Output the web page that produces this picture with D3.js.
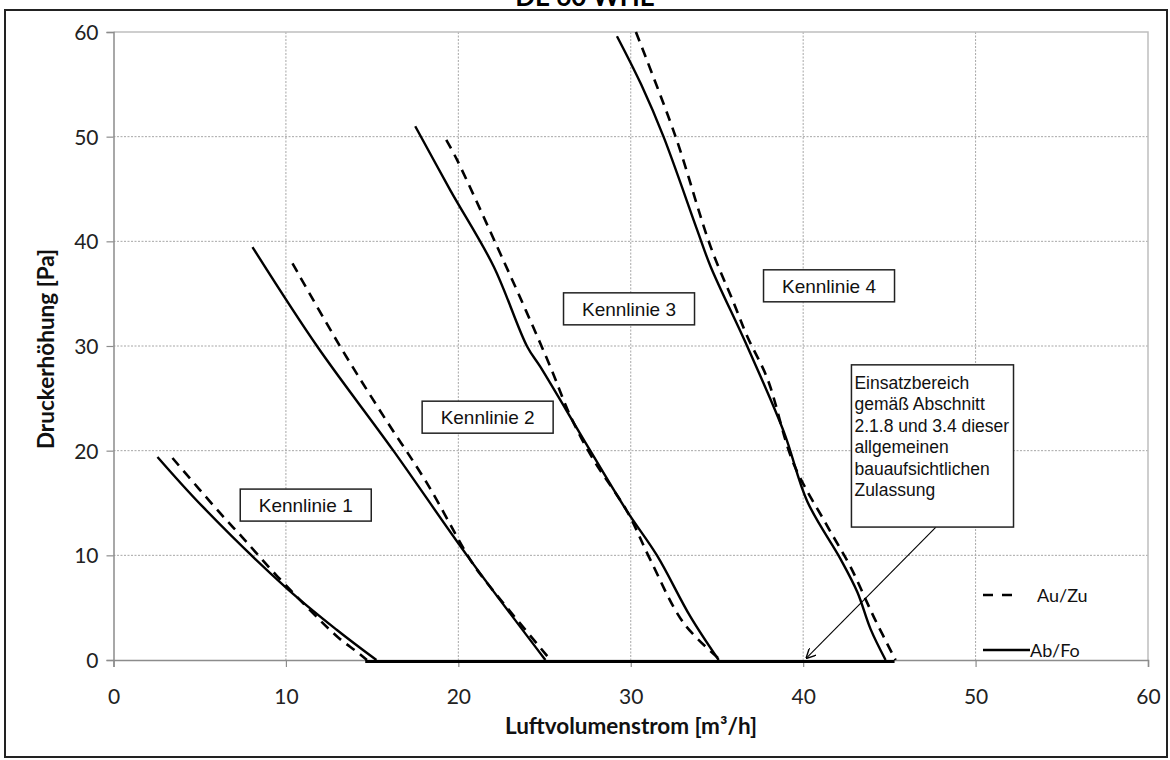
<!DOCTYPE html>
<html>
<head>
<meta charset="utf-8">
<script src="https://cdn.jsdelivr.net/npm/d3@7"></script>
<style>
  html, body { margin: 0; padding: 0; background: #fff; }
  svg { display: block; }
</style>
</head>
<body>
<svg id="chart" width="1170" height="760"></svg>
<script>
// Kennlinien: Druckerhöhung über Luftvolumenstrom, je Kennlinie Zu- und Fortluft

const xTicks = [0, 10, 20, 30, 40, 50, 60];
const yTicks = [0, 10, 20, 30, 40, 50, 60];
const seriesNames = ["Au/Zu", "Ab/Fo"];
const curveLabels = ["Kennlinie 1", "Kennlinie 2", "Kennlinie 3", "Kennlinie 4"];
const noteLines = ["Einsatzbereich", "gemäß Abschnitt", "2.1.8 und 3.4 dieser",
  "allgemeinen", "bauaufsichtlichen", "Zulassung"];

// [m³/h, Pa]
const kl1Zu = [[3.42, 19.3], [6.2, 14.0], [7.54, 11.6], [9.5, 8.0], [13.0, 2.2], [14.1, 0.8], [14.7, 0]];
const kl1Fo = [[2.55, 19.4], [5.2, 14.6], [10.02, 6.9], [12.96, 2.87], [15.25, 0]];
const kl2Zu = [[10.38, 37.9], [13.15, 29.95], [15.66, 23.3], [18.18, 16.9], [20.7, 9.56], [21.6, 7.5], [25.35, 0]];
const kl2Fo = [[8.06, 39.45], [11.8, 30.0], [16.19, 20.1], [20.5, 10], [25.05, 0]];
const kl3Zu = [[19.3, 49.7], [19.92, 47.8], [22.25, 39.5], [23.89, 33.5], [25.34, 28.0], [26.5, 23.3],
  [27.85, 19.1], [29.79, 14.2], [31.14, 9.56], [33.08, 3.5], [35.2, 0]];
const kl3Fo = [[17.5, 51], [19.53, 44.9], [22.05, 37.6], [23.99, 29.95], [24.76, 28.0], [27.66, 19.98],
  [29.79, 14.2], [31.53, 9.97], [33.46, 4.14], [35.1, 0]];
const kl4Zu = [[30.3, 60], [32.6, 50], [34.63, 39.5], [35.98, 34.1], [36.76, 30.9], [37.92, 26.9],
  [39.46, 18.7], [41.4, 12.8], [42.76, 8.85], [44.1, 4.1], [45.36, 0]];
const kl4Fo = [[29.2, 59.6], [30.6, 55], [31.9, 50], [33.85, 41.1], [34.63, 37.6], [36.76, 29.95],
  [38.88, 21.8], [40.24, 15.15], [42.17, 9.64], [43.14, 6.5], [43.91, 2.95], [44.78, 0]];
const einsatz = [[14.6, -0.15], [45.3, -0.15]];

const zuCurves = [kl1Zu, kl2Zu, kl3Zu, kl4Zu];
const foCurves = [kl1Fo, kl2Fo, kl3Fo, kl4Fo];

// layout (data coords for label boxes)
const labelPos = [[11.15, 14.8], [21.7, 23.2], [29.9, 33.55], [41.5, 35.75]];
const notePos = { x0: 42.8, x1: 52.2, y0: 28.2, y1: 12.7, arrowTo: [40.2, 0.2], arrowFrom: [47.7, 12.7] };

const ARIAL = "'Liberation Sans', Arial, sans-serif";
const CALIBRI = "Lato, 'Open Sans', sans-serif";

const svg = d3.select("#chart");
const x = d3.scaleLinear().domain([0, 60]).range([113.5, 1148]);
const y = d3.scaleLinear().domain([0, 60]).range([660, 32]);

// outer frame + title (only its lower edge shows above the frame, as in the source)
svg.append("text").text("DE 60 WHE")
  .attr("x", 585).attr("y", 6).attr("text-anchor", "middle")
  .style("font", `bold 26px ${CALIBRI}`);
svg.append("rect").attr("x", 0).attr("y", 9).attr("width", 1170).attr("height", 751).attr("fill", "#fff");
svg.append("rect").attr("x", 5).attr("y", 10).attr("width", 1162).attr("height", 747)
  .attr("fill", "none").attr("stroke", "#222").attr("stroke-width", 2);

// grid
const grid = svg.append("g");
grid.selectAll("line.gx").data(xTicks.slice(1, -1)).join("line")
  .attr("x1", d => x(d)).attr("x2", d => x(d)).attr("y1", y(60)).attr("y2", y(0))
  .attr("stroke", "#a6a6a6").attr("stroke-width", 1).attr("stroke-dasharray", "2,1.5");
grid.selectAll("line.gy").data(yTicks.slice(1, -1)).join("line")
  .attr("y1", d => y(d)).attr("y2", d => y(d)).attr("x1", x(0)).attr("x2", x(60))
  .attr("stroke", "#a6a6a6").attr("stroke-width", 1).attr("stroke-dasharray", "2,1.5");
// plot area top/right edges
svg.append("path")
  .attr("d", `M${x(0)},${y(60)}H${x(60)}V${y(0)}`)
  .attr("fill", "none").attr("stroke", "#bfbfbf").attr("stroke-width", 1.5);

// axes
const xAxis = svg.append("g").attr("transform", `translate(0,${y(0)})`)
  .call(d3.axisBottom(x).tickValues(xTicks).tickSize(7).tickPadding(22));
const yAxis = svg.append("g").attr("transform", `translate(${x(0)},0)`)
  .call(d3.axisLeft(y).tickValues(yTicks).tickSize(7).tickPadding(8));
[xAxis, yAxis].forEach(a => {
  a.select(".domain").attr("stroke", "#8c8c8c").attr("stroke-width", 1.5);
  a.selectAll(".tick line").attr("stroke", "#8c8c8c").attr("stroke-width", 1.2);
  a.selectAll(".tick text").attr("fill", "#222").style("font", `21px ${CALIBRI}`);
});
yAxis.selectAll(".tick text").attr("dy", "0.35em");

svg.append("text").text("Luftvolumenstrom [m³/h]")
  .attr("x", 631).attr("y", 734).attr("text-anchor", "middle")
  .style("font", `bold 22.5px ${CALIBRI}`).attr("fill", "#111");
svg.append("text").text("Druckerhöhung [Pa]")
  .attr("transform", "translate(54,349) rotate(-90)").attr("text-anchor", "middle")
  .style("font", `bold 22.5px ${CALIBRI}`).attr("fill", "#111");

// curves
const line = d3.line().x(d => x(d[0])).y(d => y(d[1])).curve(d3.curveCatmullRom.alpha(0.5));
const curveG = svg.append("g").attr("fill", "none").attr("stroke", "#000");
curveG.selectAll("path.zu").data(zuCurves).join("path")
  .attr("d", line).attr("stroke-width", 2.6).attr("stroke-dasharray", "10,7");
curveG.selectAll("path.fo").data(foCurves).join("path")
  .attr("d", line).attr("stroke-width", 2.4);
curveG.append("path").datum(einsatz).attr("d", d3.line().x(d => x(d[0])).y(d => y(d[1])))
  .attr("stroke-width", 3);

// Kennlinie boxes
const lab = svg.append("g");
curveLabels.forEach((t, i) => {
  const [cx, cy] = labelPos[i];
  lab.append("rect").attr("x", x(cx) - 65.5).attr("y", y(cy) - 16)
    .attr("width", 131).attr("height", 32)
    .attr("fill", "#fff").attr("stroke", "#222").attr("stroke-width", 1.5);
  lab.append("text").text(t).attr("x", x(cx)).attr("y", y(cy) + 7)
    .attr("text-anchor", "middle").style("font", `19px ${ARIAL}`).attr("fill", "#111");
});

// Einsatzbereich note + arrow
const defs = svg.append("defs");
defs.append("marker").attr("id", "arr").attr("viewBox", "0 0 10 10")
  .attr("refX", 9).attr("refY", 5).attr("markerWidth", 10).attr("markerHeight", 10)
  .attr("markerUnits", "userSpaceOnUse").attr("orient", "auto")
  .append("path").attr("d", "M0,0L10,5L0,10").attr("fill", "none").attr("stroke", "#000").attr("stroke-width", 1.4);
svg.append("line")
  .attr("x1", x(notePos.arrowFrom[0])).attr("y1", y(notePos.arrowFrom[1]))
  .attr("x2", x(notePos.arrowTo[0])).attr("y2", y(notePos.arrowTo[1]))
  .attr("stroke", "#000").attr("stroke-width", 1.1).attr("marker-end", "url(#arr)");
svg.append("rect")
  .attr("x", x(notePos.x0)).attr("y", y(notePos.y0))
  .attr("width", x(notePos.x1) - x(notePos.x0)).attr("height", y(notePos.y1) - y(notePos.y0))
  .attr("fill", "#fff").attr("stroke", "#222").attr("stroke-width", 1.5);
svg.append("text").selectAll("tspan").data(noteLines).join("tspan")
  .attr("x", x(notePos.x0) + 3).attr("y", (d, i) => y(notePos.y0) + 24 + i * 21.5)
  .text(d => d).style("font", `17.5px ${ARIAL}`).attr("fill", "#111");

// legend
const leg = svg.append("g").attr("transform", "translate(983,0)");
seriesNames.forEach((n, i) => {
  const ly = i === 0 ? 595 : 650;
  leg.append("line").attr("x1", 0).attr("x2", i === 0 ? 34 : 47).attr("y1", ly).attr("y2", ly)
    .attr("stroke", "#000").attr("stroke-width", 2.6)
    .attr("stroke-dasharray", i === 0 ? "10,9" : null);
  leg.append("text").text(n).attr("x", i === 0 ? 54 : 47).attr("y", ly + 7)
    .style("font", `18px ${CALIBRI}`).attr("fill", "#111");
});
</script>
</body>
</html>
